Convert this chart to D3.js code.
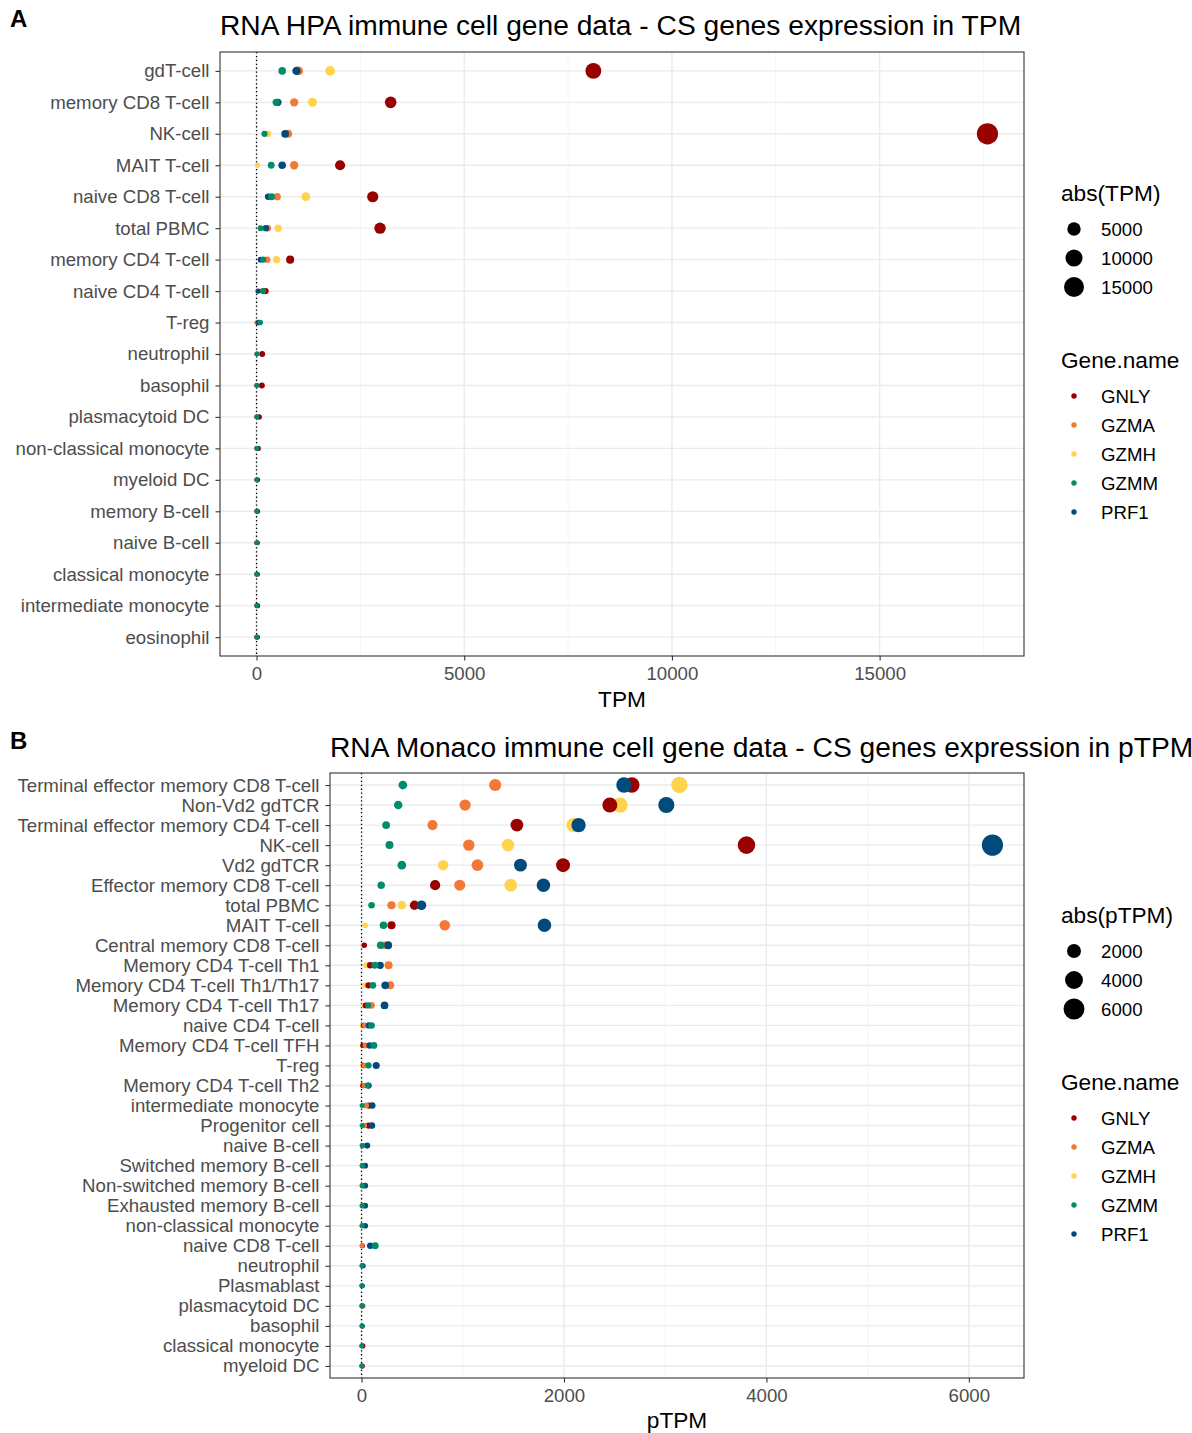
<!DOCTYPE html>
<html>
<head>
<meta charset="utf-8">
<script src="https://cdn.jsdelivr.net/npm/d3@7"></script>
<style>
  html, body { margin: 0; padding: 0; background: #fff; }
  svg { display: block; font-family: "Liberation Sans", Arial, sans-serif; }
</style>
</head>
<body>
<svg id="chart" width="1192" height="1433"></svg>
<script>
// Genes and their colours
const genes = ["GNLY", "GZMA", "GZMH", "GZMM", "PRF1"];
const geneColors = ["#990000", "#F37735", "#FFD34E", "#008C6A", "#004B7C"];
// points are layered in the order the rows appear in the source table
const drawOrder = ["GZMH", "GNLY", "GZMA", "PRF1", "GZMM"];

// ---- Panel A: HPA immune cell data (TPM) ----
const hpaCells = ["gdT-cell", "memory CD8 T-cell", "NK-cell", "MAIT T-cell", "naive CD8 T-cell",
  "total PBMC", "memory CD4 T-cell", "naive CD4 T-cell", "T-reg", "neutrophil", "basophil",
  "plasmacytoid DC", "non-classical monocyte", "myeloid DC", "memory B-cell", "naive B-cell",
  "classical monocyte", "intermediate monocyte", "eosinophil"];
const hpaGNLY = [8108, 3229, 17596, 2011, 2797, 2973, 809, 216, 50, 136, 128, 64, 40, 25, 25, 20, 20, 25, 20];
const hpaGZMA = [1017, 905, 761, 905, 497, 272, 256, 150, 5, 5, 3, 2, 2, 1, 2, 1, 1, 2, 1];
const hpaGZMH = [1771, 1346, 272, 24, 1186, 521, 481, 20, 10, 2, 1, 1, 1, 1, 1, 1, 0, 1, 0];
const hpaGZMM = [617, 473, 192, 353, 361, 96, 160, 160, 88, 16, 5, 8, 10, 5, 5, 5, 4, 5, 3];
const hpaPRF1 = [962, 513, 689, 617, 280, 224, 96, 40, 40, 10, 5, 4, 8, 5, 5, 3, 3, 5, 2];
const hpaTicks = [0, 5000, 10000, 15000];
const hpaSizeBreaks = [5000, 10000, 15000];

// ---- Panel B: Monaco immune cell data (pTPM) ----
const monacoCells = ["Terminal effector memory CD8 T-cell", "Non-Vd2 gdTCR",
  "Terminal effector memory CD4 T-cell", "NK-cell", "Vd2 gdTCR", "Effector memory CD8 T-cell",
  "total PBMC", "MAIT T-cell", "Central memory CD8 T-cell", "Memory CD4 T-cell Th1",
  "Memory CD4 T-cell Th1/Th17", "Memory CD4 T-cell Th17", "naive CD4 T-cell",
  "Memory CD4 T-cell TFH", "T-reg", "Memory CD4 T-cell Th2", "intermediate monocyte",
  "Progenitor cell", "naive B-cell", "Switched memory B-cell", "Non-switched memory B-cell",
  "Exhausted memory B-cell", "non-classical monocyte", "naive CD8 T-cell", "neutrophil",
  "Plasmablast", "plasmacytoid DC", "basophil", "classical monocyte", "myeloid DC"];
const monacoGNLY = [2670, 2453, 1535, 3803, 1991, 727, 523, 296, 27, 86, 69, 40, 20, 13, 20, 13, 72, 69, 10, 5, 5, 5, 5, 8, 5, 2, 2, 5, 12, 8];
const monacoGZMA = [1320, 1023, 701, 1060, 1145, 970, 296, 822, 230, 267, 283, 99, 33, 39, 30, 30, 46, 27, 20, 10, 10, 10, 5, 4, 3, 2, 2, 2, 2, 2];
const monacoGZMH = [3140, 2555, 2093, 1447, 806, 1474, 398, 36, 20, 46, 36, 20, 5, 5, 5, 5, 2, 2, 2, 1, 1, 1, 1, 2, 1, 1, 20, 1, 0, 0];
const monacoGZMM = [408, 362, 243, 276, 398, 194, 99, 217, 188, 132, 112, 66, 99, 122, 69, 60, 7, 7, 7, 10, 10, 10, 7, 135, 5, 5, 5, 5, 3, 3];
const monacoPRF1 = [2592, 3011, 2144, 6233, 1570, 1797, 592, 1807, 263, 184, 234, 227, 72, 79, 145, 70, 105, 102, 56, 36, 36, 36, 36, 86, 15, 8, 8, 8, 3, 3];
const monacoTicks = [0, 2000, 4000, 6000];
const monacoSizeBreaks = [2000, 4000, 6000];

const panels = [
  {
    tag: "A", title: "RNA HPA immune cell gene data - CS genes expression in TPM",
    cells: hpaCells, series: [hpaGNLY, hpaGZMA, hpaGZMH, hpaGZMM, hpaPRF1],
    ticks: hpaTicks, minorTicks: [2500, 7500, 12500, 17500], xTitle: "TPM",
    sizeTitle: "abs(TPM)", sizeBreaks: hpaSizeBreaks,
    box: { left: 220, right: 1024, top: 52, bottom: 656 },
    tagY: 27, titleY: 35, tickLabelY: 680, xTitleY: 707,
    legendSizeTitleY: 201, legendSizeY: 229, legendGeneTitleY: 368, legendGeneY: 396
  },
  {
    tag: "B", title: "RNA Monaco immune cell gene data - CS genes expression in pTPM",
    cells: monacoCells, series: [monacoGNLY, monacoGZMA, monacoGZMH, monacoGZMM, monacoPRF1],
    ticks: monacoTicks, minorTicks: [1000, 3000, 5000], xTitle: "pTPM",
    sizeTitle: "abs(pTPM)", sizeBreaks: monacoSizeBreaks,
    box: { left: 330, right: 1024, top: 773, bottom: 1378 },
    tagY: 749, titleY: 757, tickLabelY: 1402, xTitleY: 1428,
    legendSizeTitleY: 923, legendSizeY: 951, legendGeneTitleY: 1090, legendGeneY: 1118
  }
];

const svg = d3.select("#chart");
const gridMajor = "#EBEBEB", gridMinor = "#F3F3F3", axisGrey = "#333333", labelGrey = "#4D4D4D";

// point diameter in px from the ggplot-style size value (1..6)
const diameterOf = s => 1.18 * (s * 2.845 + 0.94);

panels.forEach(p => {
  const b = p.box;
  const g = svg.append("g");

  // long-format rows
  const rows = [];
  p.cells.forEach((c, i) => {
    genes.forEach((gene, j) => rows.push({ cell: c, gene: gene, value: p.series[j][i] }));
  });
  rows.sort((a, c) => drawOrder.indexOf(a.gene) - drawOrder.indexOf(c.gene));

  const maxV = d3.max(rows, d => Math.abs(d.value));
  const minV = d3.min(rows, d => d.value);
  const pad = (maxV - minV) * 0.05;
  const x = d3.scaleLinear().domain([minV - pad, maxV + pad]).range([b.left, b.right]);
  const n = p.cells.length;
  const step = (b.bottom - b.top) / (n - 1 + 1.2);
  const y = d3.scalePoint().domain(p.cells).range([b.top + 0.6 * step, b.bottom - 0.6 * step]);
  const size = d3.scaleSqrt().domain([0, maxV]).range([1, 6]);
  const color = d3.scaleOrdinal().domain(genes).range(geneColors);

  // panel grid
  g.selectAll(".minor").data(p.minorTicks.filter(t => x(t) < b.right)).join("line")
    .attr("x1", d => x(d)).attr("x2", d => x(d)).attr("y1", b.top).attr("y2", b.bottom)
    .attr("stroke", gridMinor).attr("stroke-width", 0.8);
  g.selectAll(".majorx").data(p.ticks).join("line")
    .attr("x1", d => x(d)).attr("x2", d => x(d)).attr("y1", b.top).attr("y2", b.bottom)
    .attr("stroke", gridMajor).attr("stroke-width", 1.4);
  g.selectAll(".majory").data(p.cells).join("line")
    .attr("x1", b.left).attr("x2", b.right).attr("y1", d => y(d)).attr("y2", d => y(d))
    .attr("stroke", gridMajor).attr("stroke-width", 1.4);

  // zero reference line
  g.append("line").attr("x1", x(0)).attr("x2", x(0)).attr("y1", b.top).attr("y2", b.bottom)
    .attr("stroke", "#000").attr("stroke-width", 1.3).attr("stroke-dasharray", "1.3,2.6");

  // points
  g.selectAll("circle.pt").data(rows).join("circle")
    .attr("class", "pt")
    .attr("cx", d => x(d.value)).attr("cy", d => y(d.cell))
    .attr("r", d => diameterOf(size(Math.abs(d.value))) / 2)
    .attr("fill", d => color(d.gene));

  // panel border
  g.append("rect").attr("x", b.left).attr("y", b.top)
    .attr("width", b.right - b.left).attr("height", b.bottom - b.top)
    .attr("fill", "none").attr("stroke", axisGrey).attr("stroke-width", 1.1);

  // y axis
  const yAxis = g.append("g").attr("transform", `translate(${b.left},0)`)
    .call(d3.axisLeft(y).tickSize(4.5).tickPadding(6));
  yAxis.select(".domain").remove();
  yAxis.selectAll(".tick line").attr("stroke", axisGrey).attr("stroke-width", 1.1);
  yAxis.selectAll(".tick text").attr("fill", labelGrey)
    .style("font-size", "18.67px").style("font-family", "Liberation Sans, Arial, sans-serif");

  // x axis
  const xAxis = g.append("g").attr("transform", `translate(0,${b.bottom})`)
    .call(d3.axisBottom(x).tickValues(p.ticks).tickFormat(d3.format("d")).tickSize(4.5).tickPadding(6));
  xAxis.select(".domain").remove();
  xAxis.selectAll(".tick line").attr("stroke", axisGrey).attr("stroke-width", 1.1);
  xAxis.selectAll(".tick text").attr("fill", labelGrey)
    .style("font-size", "18.67px").style("font-family", "Liberation Sans, Arial, sans-serif");

  // x title
  g.append("text").attr("x", (b.left + b.right) / 2).attr("y", p.xTitleY)
    .attr("text-anchor", "middle").style("font-size", "22.67px").attr("fill", "#000").text(p.xTitle);

  // title and tag
  g.append("text").attr("x", b.left).attr("y", p.titleY)
    .style("font-size", "28.2px").attr("fill", "#000").text(p.title);
  g.append("text").attr("x", 10).attr("y", p.tagY)
    .style("font-size", "24px").style("font-weight", "bold").attr("fill", "#000").text(p.tag);

  // size legend
  const lx = 1061, keyX = 1074, labX = 1101;
  g.append("text").attr("x", lx).attr("y", p.legendSizeTitleY)
    .style("font-size", "22.67px").text(p.sizeTitle);
  p.sizeBreaks.forEach((v, i) => {
    const cy = p.legendSizeY + i * 29;
    g.append("circle").attr("cx", keyX).attr("cy", cy)
      .attr("r", diameterOf(size(v)) / 2).attr("fill", "#000");
    g.append("text").attr("x", labX).attr("y", cy).attr("dy", "0.35em")
      .style("font-size", "18.67px").text(v);
  });

  // gene legend
  g.append("text").attr("x", lx).attr("y", p.legendGeneTitleY)
    .style("font-size", "22.67px").text("Gene.name");
  genes.forEach((gene, i) => {
    const cy = p.legendGeneY + i * 29;
    g.append("circle").attr("cx", keyX).attr("cy", cy).attr("r", 2.7).attr("fill", color(gene));
    g.append("text").attr("x", labX).attr("y", cy).attr("dy", "0.35em")
      .style("font-size", "18.67px").text(gene);
  });
});
</script>
</body>
</html>
